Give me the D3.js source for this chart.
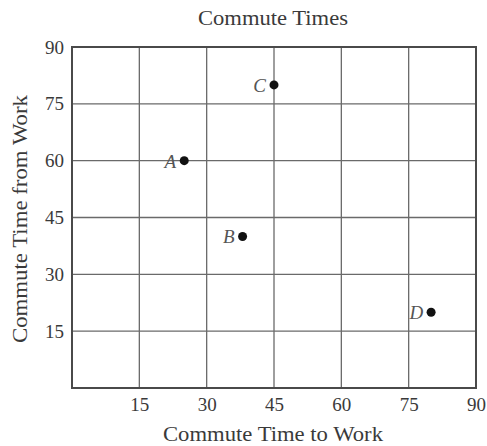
<!DOCTYPE html>
<html><head><meta charset="utf-8">
<script src="https://cdn.jsdelivr.net/npm/d3@7"></script>
<style>body{margin:0;background:#fff}svg{display:block}</style>
</head><body>
<svg id="c" width="487" height="446"></svg>
<script>
const labels = ["A","B","C","D"];
const toWork = [25, 38, 45, 80];
const fromWork = [60, 40, 80, 20];
const xTicks = [15,30,45,60,75,90];
const yTicks = [15,30,45,60,75,90];

const svg = d3.select("#c");
const m = {l:72, r:476, t:47, b:388};
const x = d3.scaleLinear().domain([0,90]).range([m.l, m.r]);
const y = d3.scaleLinear().domain([0,90]).range([m.b, m.t]);
const font = "'Liberation Serif', 'DejaVu Serif', serif";
const gridCol = "#6a6a6a";

// gridlines
svg.append("g").selectAll("line.v").data(xTicks.slice(0,-1)).join("line")
  .attr("x1", d=>x(d)).attr("x2", d=>x(d)).attr("y1", m.t).attr("y2", m.b)
  .attr("stroke", gridCol).attr("stroke-width", 1.3);
svg.append("g").selectAll("line.h").data(yTicks.slice(0,-1)).join("line")
  .attr("x1", m.l).attr("x2", m.r).attr("y1", d=>y(d)).attr("y2", d=>y(d))
  .attr("stroke", gridCol).attr("stroke-width", 1.3);
// frame
svg.append("rect").attr("x", m.l).attr("y", m.t).attr("width", m.r-m.l).attr("height", m.b-m.t)
  .attr("fill","none").attr("stroke","#4a4a4a").attr("stroke-width",2);

// axes text
const xAxis = svg.append("g").attr("transform", `translate(0,${m.b})`)
  .call(d3.axisBottom(x).tickValues(xTicks).tickSize(0).tickPadding(10));
const yAxis = svg.append("g").attr("transform", `translate(${m.l},0)`)
  .call(d3.axisLeft(y).tickValues(yTicks).tickSize(0).tickPadding(8));
[xAxis, yAxis].forEach(g=>{
  g.select(".domain").remove();
  g.selectAll("text").attr("font-family", font).attr("font-size", 19).attr("fill","#3a3a3a");
});

// points
const pts = labels.map((l,i)=>({l, xv:toWork[i], yv:fromWork[i]}));
svg.append("g").selectAll("circle").data(pts).join("circle")
  .attr("cx", d=>x(d.xv)).attr("cy", d=>y(d.yv)).attr("r", 4.5).attr("fill","#111");
svg.append("g").selectAll("text").data(pts).join("text")
  .attr("x", d=>x(d.xv)-8).attr("y", d=>y(d.yv)+7)
  .attr("text-anchor","end").attr("font-family", font).attr("font-style","italic")
  .attr("font-size", 19).attr("fill","#555").text(d=>d.l);

// titles
svg.append("text").attr("x", 273).attr("y", 25).attr("text-anchor","middle")
  .attr("font-family", font).attr("font-size", 20).attr("fill","#3a3a3a")
  .attr("textLength", 150).attr("lengthAdjust","spacingAndGlyphs").text("Commute Times");
svg.append("text").attr("x", 273).attr("y", 441).attr("text-anchor","middle")
  .attr("font-family", font).attr("font-size", 20).attr("fill","#3a3a3a")
  .attr("textLength", 220).attr("lengthAdjust","spacingAndGlyphs").text("Commute Time to Work");
svg.append("text").attr("transform", `translate(27,219) rotate(-90)`).attr("text-anchor","middle")
  .attr("font-family", font).attr("font-size", 20).attr("fill","#3a3a3a")
  .attr("textLength", 248).attr("lengthAdjust","spacingAndGlyphs").text("Commute Time from Work");
</script>
</body></html>
